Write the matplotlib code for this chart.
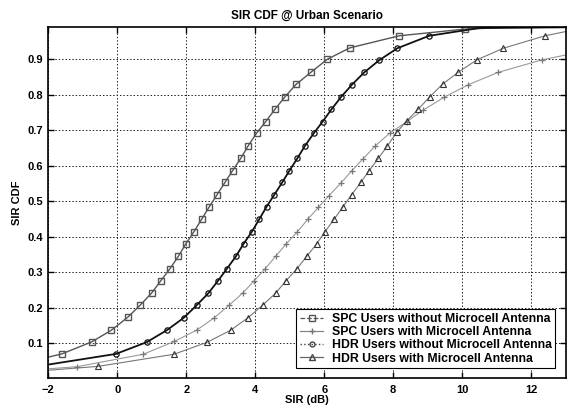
import matplotlib
matplotlib.use('Agg')
import matplotlib.pyplot as plt
from matplotlib.lines import Line2D

plt.rcParams['font.family'] = ['Liberation Sans', 'DejaVu Sans']
plt.rcParams['font.weight'] = 'bold'

# SPC users without microcell antenna (squares); first/last points carry no marker
spc_wo_x = [-2.0, -1.61, -0.74, -0.17, 0.30, 0.66, 1.00, 1.26, 1.52, 1.77, 1.98, 2.22, 2.45,
            2.67, 2.89, 3.12, 3.34, 3.58, 3.80, 4.04, 4.30, 4.57, 4.86, 5.18, 5.61, 6.09,
            6.74, 8.17, 10.08, 11.2, 12.4]
spc_wo_y = [0.061, 0.070, 0.104, 0.137, 0.173, 0.207, 0.242, 0.276, 0.309, 0.345, 0.379, 0.414,
            0.450, 0.485, 0.518, 0.553, 0.586, 0.621, 0.657, 0.692, 0.724, 0.759, 0.794, 0.829,
            0.863, 0.900, 0.932, 0.966, 0.985, 0.989, 0.990]

# SPC users with microcell antenna (plus)
spc_w_x = [-2.0, -1.17, 0.75, 1.65, 2.30, 2.80, 3.24, 3.63, 3.97, 4.28, 4.60, 4.90, 5.22, 5.52,
           5.83, 6.14, 6.48, 6.79, 7.13, 7.47, 7.90, 8.39, 8.87, 9.48, 10.17, 11.04, 12.30, 13.0]
spc_w_y = [0.028, 0.034, 0.069, 0.105, 0.137, 0.171, 0.207, 0.241, 0.276, 0.309, 0.346, 0.380,
           0.414, 0.449, 0.483, 0.516, 0.551, 0.585, 0.620, 0.655, 0.692, 0.724, 0.757, 0.793,
           0.828, 0.863, 0.898, 0.912]

# HDR users without microcell antenna (circles)
hdr_wo_x = [-2.0, -0.04, 0.85, 1.44, 1.93, 2.30, 2.64, 2.92, 3.17, 3.44, 3.66, 3.90, 4.12, 4.33,
            4.55, 4.78, 4.99, 5.22, 5.44, 5.70, 5.95, 6.21, 6.49, 6.80, 7.16, 7.59, 8.12, 9.04,
            10.5, 13.0]
hdr_wo_y = [0.040, 0.070, 0.103, 0.137, 0.172, 0.207, 0.241, 0.276, 0.309, 0.345, 0.380, 0.414,
            0.450, 0.485, 0.518, 0.553, 0.586, 0.621, 0.656, 0.692, 0.724, 0.759, 0.794, 0.828,
            0.863, 0.897, 0.931, 0.966, 0.988, 0.990]

# HDR users with microcell antenna (triangles)
hdr_w_x = [-2.0, -0.55, 1.64, 2.61, 3.29, 3.79, 4.21, 4.59, 4.89, 5.20, 5.51, 5.78, 6.02, 6.29,
           6.55, 6.79, 7.06, 7.30, 7.57, 7.83, 8.10, 8.39, 8.72, 9.06, 9.43, 9.88, 10.42,
           11.19, 12.40, 13.0]
hdr_w_y = [0.024, 0.035, 0.069, 0.103, 0.137, 0.172, 0.207, 0.241, 0.276, 0.309, 0.347, 0.380,
           0.414, 0.450, 0.485, 0.518, 0.553, 0.586, 0.621, 0.656, 0.694, 0.726, 0.759, 0.794,
           0.830, 0.863, 0.898, 0.931, 0.966, 0.978]

labels = ['SPC Users without Microcell Antenna', 'SPC Users with Microcell Antenna',
          'HDR Users without Microcell Antenna', 'HDR Users with Microcell Antenna']

fig = plt.figure(figsize=(5.76, 4.05), dpi=100)
ax = fig.add_axes([0.0839, 0.0674, 0.8982, 0.8652])

ax.plot(spc_wo_x, spc_wo_y, color='#555555', lw=1.0, marker='s', ms=4.3, mfc='none',
        mec='#555555', mew=1.0, markevery=list(range(1, len(spc_wo_x) - 2)))
ax.plot(spc_w_x, spc_w_y, color='#999999', lw=0.8, marker='+', ms=4.5,
        mec='#777777', mew=0.9, markevery=list(range(1, len(spc_w_x) - 1)))
ax.plot(hdr_wo_x, hdr_wo_y, color='#111111', lw=1.3, marker='o', ms=3.8, mfc='none',
        mec='#111111', mew=0.9, markevery=list(range(1, len(hdr_wo_x) - 2)))
ax.plot(hdr_w_x, hdr_w_y, color='#777777', lw=0.8, marker='^', ms=4.5, mfc='none',
        mec='#333333', mew=0.8, markevery=list(range(1, len(hdr_w_x) - 1)))

ax.set_xlim(-2, 13)
ax.set_ylim(0.003, 0.99)
ax.set_xticks([-2, 0, 2, 4, 6, 8, 10, 12])
ax.set_yticks([0.1, 0.2, 0.3, 0.4, 0.5, 0.6, 0.7, 0.8, 0.9])
ax.tick_params(direction='in', top=True, right=True, length=4, width=1.0, labelsize=8)
ax.tick_params(axis='x', pad=5)
for lab in ax.get_xticklabels() + ax.get_yticklabels():
    lab.set_fontweight('bold')
ax.grid(True, color='#222222', linestyle=(0, (1.5, 2)), linewidth=0.7)
for sp in ax.spines.values():
    sp.set_linewidth(1.2)

ax.set_title('SIR CDF @ Urban Scenario', fontsize=8.5, fontweight='bold', pad=6)
ax.set_xlabel('SIR (dB)', fontsize=8, fontweight='bold', labelpad=0)
ax.set_ylabel('SIR CDF', fontsize=8, fontweight='bold', labelpad=4)

# legend handles use the dashed / dotted styles shown in the original key
handles = [
    Line2D([], [], color='#555555', ls='--', lw=0.9, marker='s', ms=4, mfc='none', mec='#555555'),
    Line2D([], [], color='#888888', ls='-', lw=0.9, marker='+', ms=4.5, mec='#777777'),
    Line2D([], [], color='#444444', ls=':', lw=1.0, marker='o', ms=3.5, mfc='none', mec='#444444'),
    Line2D([], [], color='#666666', ls='-', lw=0.9, marker='^', ms=4, mfc='none', mec='#444444'),
]
leg = ax.legend(handles, labels, loc='lower right', bbox_to_anchor=(0.985, 0.02),
                prop={'size': 8.8, 'weight': 'bold'}, frameon=True, fancybox=False,
                edgecolor='black', framealpha=1, borderpad=0.3, labelspacing=0.1,
                handlelength=1.9, handletextpad=0.7, borderaxespad=0.2)
leg.get_frame().set_linewidth(0.8)

fig.savefig('out.png', dpi=100)
